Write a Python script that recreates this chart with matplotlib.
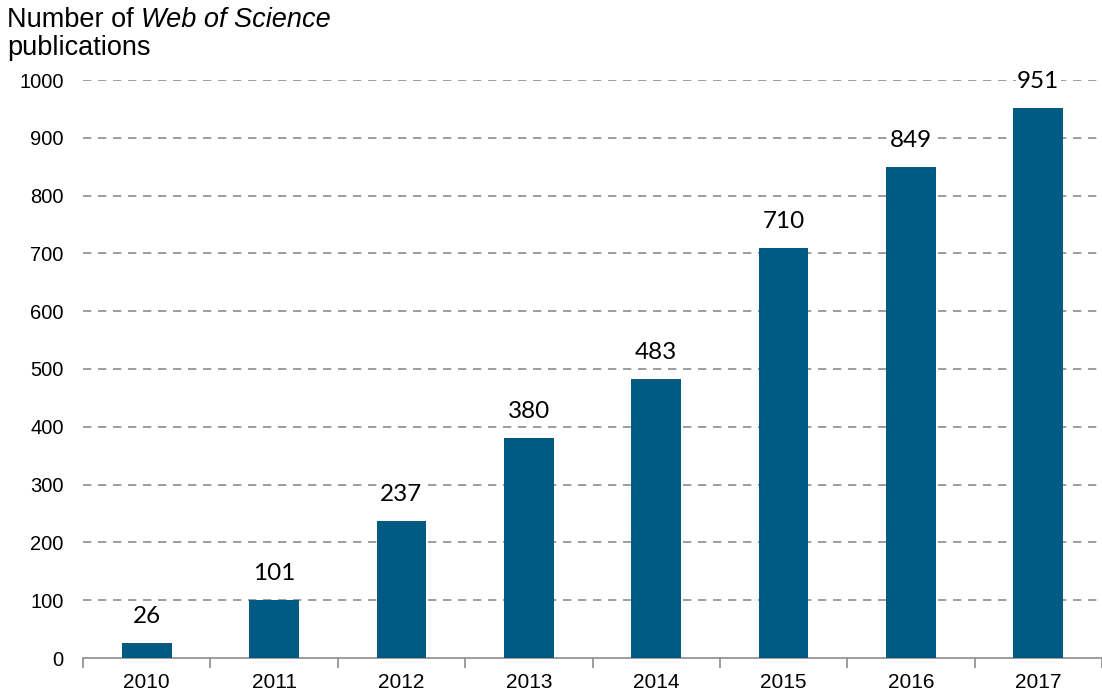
import matplotlib
matplotlib.use("Agg")
import matplotlib.pyplot as plt
import numpy as np

years = ["2010", "2011", "2012", "2013", "2014", "2015", "2016", "2017"]
counts = [26, 101, 237, 380, 483, 710, 849, 951]
yticks = [0, 100, 200, 300, 400, 500, 600, 700, 800, 900, 1000]

fig = plt.figure(figsize=(11.02, 6.95), dpi=100)
ax = fig.add_axes([83/1102, 37/695, (1102-83)/1102, (658-80)/695])

x = np.arange(len(years))
ax.bar(x, counts, width=0.39, color="#005A82", zorder=3)
ax.set_xlim(-0.5, len(years) - 0.5)
ax.set_ylim(0, 1000)

for yv in yticks[1:]:
    ax.axhline(yv, color="#8c8c8c", linestyle=(0, (5, 4)), linewidth=1.2, zorder=1)

for xi, v in zip(x, counts):
    ax.annotate(str(v), (xi, v), xytext=(0, 19), textcoords="offset points",
                ha="center", va="center", fontsize=17.5, family="Lato",
                color="black", zorder=4, annotation_clip=False,
                bbox=dict(facecolor="white", edgecolor="none", pad=1))

ax.set_yticks(yticks)
ax.set_yticklabels([str(t) for t in yticks], family="Liberation Sans", fontsize=14.5)
ax.set_xticks(x)
ax.set_xticklabels(years, family="Liberation Sans", fontsize=15)
ax.tick_params(axis="y", length=0, pad=14)
ax.tick_params(axis="x", length=0, pad=11)
ax.set_xticks(np.arange(-0.5, len(years)), minor=True)
ax.tick_params(axis="x", which="minor", length=7, color="#8c8c8c", width=1.2)

for s in ["top", "right", "left"]:
    ax.spines[s].set_visible(False)
ax.spines["bottom"].set_color("#8c8c8c")
ax.spines["bottom"].set_linewidth(1.2)

t1 = fig.text(7/1102, 1 - 20/695, "Number of ", family="Liberation Sans", fontsize=19.5, va="center", ha="left")
fig.canvas.draw()
bb = t1.get_window_extent()
fig.text(bb.x1 / fig.bbox.width, 1 - 20/695, "Web of Science", family="Liberation Sans",
         style="italic", fontsize=19.5, va="center", ha="left")
fig.text(7/1102, 1 - 48/695, "publications", family="Liberation Sans", fontsize=19.5, va="center", ha="left")

fig.savefig("out.png", dpi=100)
